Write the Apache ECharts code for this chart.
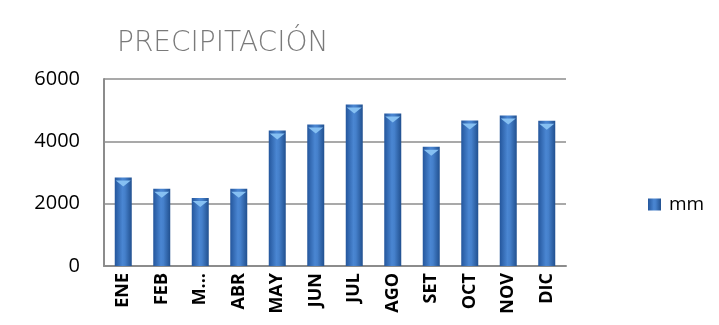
<!DOCTYPE html>
<html>
<head>
<meta charset="utf-8">
<script src="https://cdn.jsdelivr.net/npm/echarts@6/dist/echarts.min.js"></script>
<style>
  html, body { margin: 0; padding: 0; background: #ffffff; }
  #chart { width: 719px; height: 325px; }
</style>
</head>
<body>
<div id="chart"></div>
<script>
// Monthly precipitation (mm)
const months = ['ENE', 'FEB', 'M...', 'ABR', 'MAY', 'JUN', 'JUL', 'AGO', 'SET', 'OCT', 'NOV', 'DIC'];
const rainfall = [2840, 2480, 2180, 2480, 4350, 4540, 5180, 4890, 3830, 4670, 4830, 4660];
const yTicks = [0, 2000, 4000, 6000];
const seriesName = 'mm';

const chart = echarts.init(document.getElementById('chart'), null, { renderer: 'canvas' });

const barFill = new echarts.graphic.LinearGradient(0, 0, 1, 0, [
  { offset: 0, color: '#24569c' },
  { offset: 0.45, color: '#4a86d2' },
  { offset: 0.6, color: '#4580cb' },
  { offset: 1, color: '#21508f' }
]);

chart.setOption({
  animation: false,
  backgroundColor: '#ffffff',
  title: {
    text: 'PRECIPITACIÓN',
    left: 112,
    top: 25,
    textStyle: {
      fontFamily: 'DejaVu Sans',
      fontWeight: 200,
      fontSize: 28,
      color: '#7a7a7a'
    }
  },
  legend: {
    data: [{ name: seriesName, icon: 'rect' }],
    left: 648,
    top: 195,
    padding: 0,
    itemWidth: 13,
    itemHeight: 12,
    itemGap: 6,
    textStyle: { fontFamily: 'Open Sans', fontSize: 19, color: '#000000', padding: [0, 0, 0, 3] }
  },
  grid: { left: 104, right: 153, top: 79, bottom: 59, containLabel: false },
  xAxis: {
    type: 'category',
    data: months,
    axisLine: { show: true, lineStyle: { color: '#8c8c8c', width: 2 } },
    axisTick: { show: false },
    axisLabel: {
      rotate: 90,
      interval: 0,
      margin: 7,
      fontFamily: 'Open Sans',
      fontWeight: 'bold',
      fontSize: 18,
      color: '#000000'
    }
  },
  yAxis: {
    type: 'value',
    min: yTicks[0],
    max: yTicks[yTicks.length - 1],
    interval: 2000,
    axisLine: { show: true, lineStyle: { color: '#8c8c8c', width: 2 } },
    axisTick: { show: false },
    splitLine: { show: true, lineStyle: { color: '#8c8c8c', width: 1.5 } },
    axisLabel: {
      margin: 24,
      formatter: (v) => String(v),
      fontFamily: 'Open Sans',
      fontSize: 20,
      color: '#000000'
    }
  },
  series: [
    {
      name: seriesName,
      type: 'bar',
      data: rainfall,
      barWidth: 17,
      itemStyle: { color: barFill },
      z: 2
    },
    {
      // bevelled top cap on each bar
      name: 'cap',
      type: 'pictorialBar',
      data: rainfall,
      symbol: 'triangle',
      symbolRotate: 180,
      symbolSize: [15, 6],
      symbolPosition: 'end',
      symbolOffset: [0, '50%'],
      itemStyle: { color: '#86c0f2' },
      silent: true,
      z: 3,
      tooltip: { show: false }
    }
  ]
});
</script>
</body>
</html>
